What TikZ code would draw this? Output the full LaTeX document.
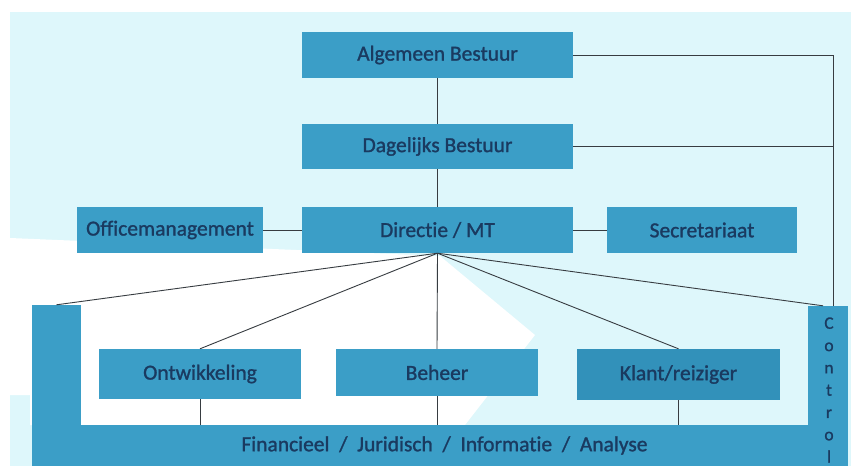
\documentclass[tikz,border=0pt]{standalone}
\usepackage{fontspec}
\setmainfont[Ligatures=NoCommon]{Carlito}
\newfontfamily\boxfont[Ligatures=NoCommon, FakeBold=1.2]{Carlito}
\usetikzlibrary{calc}

\definecolor{bgcyan}{RGB}{222,247,251}
\definecolor{boxblue}{RGB}{59,158,199}
\definecolor{boxdark}{RGB}{50,145,186}
\definecolor{txtblue}{RGB}{26,58,96}
\definecolor{linegray}{RGB}{55,60,65}

\tikzset{
    orgbox/.style={fill=boxblue, draw=none, text=txtblue, inner sep=0pt,
        font=\boxfont\fontsize{21.5}{25}\selectfont},
    bar/.style={fill=boxblue, draw=none, inner sep=0pt},
    link/.style={draw=linegray, line width=0.9pt}
}

\begin{document}
\begin{tikzpicture}[x=1pt, y=-1pt]
    \useasboundingbox (0,0) rectangle (851,466);
    % achtergrond
    \fill[bgcyan] (10,12) rectangle (851,466);
    \fill[white] (10,238) -- (440,256) -- (535,335) -- (465,425)
        -- (30,425) -- (30,395) -- (10,395) -- cycle;

    % bestuur en directie
    \node[orgbox, minimum width=271pt, minimum height=46pt] (ab) at (437.5,55) {Algemeen Bestuur};
    \node[orgbox, minimum width=271pt, minimum height=45pt] (db) at (437.5,146.5) {Dagelijks Bestuur};
    \node[orgbox, minimum width=271pt, minimum height=46pt] (dir) at (437.5,230) {Directie / MT};
    \node[orgbox, minimum width=186pt, minimum height=46pt] (office) at (170,230) {Officemanagement};
    \node[orgbox, minimum width=190pt, minimum height=46pt] (secr) at (702,230) {Secretariaat};

    % afdelingen
    \node[orgbox, minimum width=202pt, minimum height=50pt] (ontw) at (200,374) {Ontwikkeling};
    \node[orgbox, minimum width=202pt, minimum height=47pt] (beheer) at (437,372.5) {Beheer};
    \node[orgbox, fill=boxdark, minimum width=203pt, minimum height=51pt] (klant) at (678.5,374.5) {Klant/reiziger};

    % ondersteunende balken
    \node[bar, minimum width=49pt, minimum height=161pt] (staf) at (56.5,385.5) {};
    \node[orgbox, minimum width=727pt, minimum height=41pt] (fija) at (444.5,445.5)
        {Financieel \ / \ Juridisch \ / \ Informatie \ / \ Analyse};
    \node[bar, minimum width=40pt, minimum height=160pt] (control) at (828,386) {};
    \node[text=txtblue, align=center, inner sep=0pt,
        font=\boxfont\fontsize{17.5}{22.3}\selectfont] (ctext) at (829,390)
        {C\\o\\n\\t\\r\\o\\l};

    \coordinate (ctop) at (833,306);

    % lijnen
    \draw[link] (ab.south) -- (db.north);
    \draw[link] (db.south) -- (dir.north);
    \draw[link] (office.east) -- (dir.west);
    \draw[link] (dir.east) -- (secr.west);
    \draw[link] (ab.east) -| (ctop);
    \draw[link] (db.east) -- (db.east -| ctop);
    \draw[link] (dir.south) -- (staf.north);
    \draw[link] (dir.south) -- (ontw.north);
    \draw[link] (dir.south) -- (beheer.north);
    \draw[link] (dir.south) -- (klant.north);
    \draw[link] (dir.south) -- ($(control.north)+(-5,0)$);
    \draw[link] (ontw.south) -- (ontw.south |- fija.north);
    \draw[link] (beheer.south) -- (beheer.south |- fija.north);
    \draw[link] (klant.south) -- (klant.south |- fija.north);
\end{tikzpicture}
\end{document}
